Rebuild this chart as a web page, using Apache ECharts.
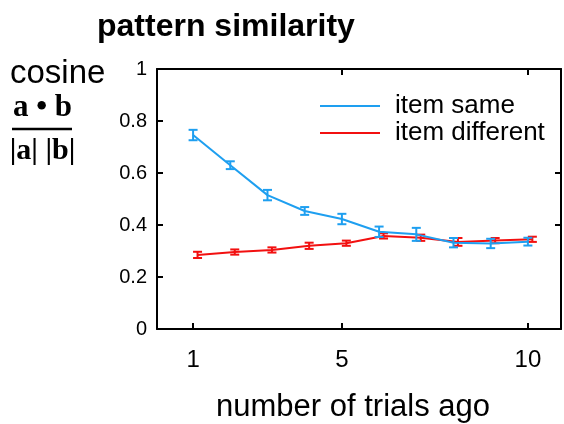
<!DOCTYPE html>
<html>
<head>
<meta charset="utf-8">
<script src="https://cdn.jsdelivr.net/npm/echarts@6/dist/echarts.min.js"></script>
<style>html,body{margin:0;padding:0;background:#fff}#c{width:564px;height:424px}</style>
</head>
<body>
<div id="c"></div>
<script>
// Data
const trials = [1, 2, 3, 4, 5, 6, 7, 8, 9, 10];
const sameMean = [0.746, 0.630, 0.515, 0.454, 0.423, 0.374, 0.364, 0.332, 0.329, 0.336];
const sameErr  = [0.020, 0.015, 0.020, 0.015, 0.020, 0.020, 0.025, 0.018, 0.018, 0.015];
const diffMean = [0.285, 0.296, 0.304, 0.320, 0.330, 0.358, 0.351, 0.335, 0.340, 0.345];
const diffErr  = [0.012, 0.010, 0.010, 0.012, 0.010, 0.010, 0.012, 0.015, 0.010, 0.010];
const xTickLabels = [1, 5, 10];
const yTicks = [0, 0.2, 0.4, 0.6, 0.8, 1];

// Style
const BLUE = '#1E9FF0';
const RED = '#F21010';
const DIFF_SHIFT = 0.12; // horizontal dodge of the second series
const FONT = 'Liberation Sans, Arial, sans-serif';
const SERIF = '"Liberation Serif", "Times New Roman", serif';

function lineData(means, shift) {
  return trials.map((t, i) => [t + shift, means[i]]);
}
function errData(means, errs, shift) {
  return trials.map((t, i) => [t + shift, means[i] - errs[i], means[i] + errs[i]]);
}
function errRender(color) {
  return function (params, api) {
    const x = api.value(0);
    const lo = api.coord([x, api.value(1)]);
    const hi = api.coord([x, api.value(2)]);
    const w = 4.5;
    const st = { stroke: color, lineWidth: 2 };
    return {
      type: 'group',
      children: [
        { type: 'line', shape: { x1: lo[0], y1: lo[1], x2: hi[0], y2: hi[1] }, style: st },
        { type: 'line', shape: { x1: lo[0] - w, y1: lo[1], x2: lo[0] + w, y2: lo[1] }, style: st },
        { type: 'line', shape: { x1: hi[0] - w, y1: hi[1], x2: hi[0] + w, y2: hi[1] }, style: st }
      ]
    };
  };
}

const chart = echarts.init(document.getElementById('c'), null, { renderer: 'canvas' });
const axisLine = { show: true, onZero: false, lineStyle: { color: '#000', width: 2 } };
const option = {
  animation: false,
  backgroundColor: '#fff',
  title: {
    text: 'pattern similarity',
    left: 92, top: 6,
    textStyle: { fontFamily: FONT, fontWeight: 'bold', fontSize: 32, color: '#000' }
  },
  legend: {
    data: ['item same', 'item different'],
    orient: 'vertical', left: 320, top: 93, padding: 0,
    itemWidth: 60, itemHeight: 2, icon: 'rect', itemGap: 1,
    textStyle: { fontFamily: FONT, fontSize: 26, lineHeight: 26, color: '#000', padding: [0, 0, 0, 10] }
  },
  grid: { left: 157, right: 3, top: 69, bottom: 95, containLabel: false, outerBoundsMode: 'none' },
  xAxis: [
    {
      type: 'value', position: 'bottom', min: 0.03, max: 10.89,
      axisLine: axisLine,
      axisTick: { show: true, inside: true, length: 6, customValues: xTickLabels, lineStyle: { color: '#000', width: 2 } },
      axisLabel: { customValues: xTickLabels, fontFamily: FONT, fontSize: 24, color: '#000', margin: 19 },
      splitLine: { show: false },
      name: 'number of trials ago', nameLocation: 'middle', nameGap: 63,
      nameTextStyle: { fontFamily: FONT, fontSize: 31, color: '#000', padding: [0, 12, 0, 0] }
    },
    {
      type: 'value', position: 'top', min: 0.03, max: 10.89,
      axisLine: axisLine,
      axisTick: { show: true, inside: true, length: 6, customValues: [5, 10], lineStyle: { color: '#000', width: 2 } },
      axisLabel: { show: false },
      splitLine: { show: false }
    }
  ],
  yAxis: [
    {
      type: 'value', position: 'left', min: 0, max: 1, interval: 0.2,
      axisLine: axisLine,
      axisTick: { show: true, inside: true, length: 6, customValues: yTicks.slice(1, 5), lineStyle: { color: '#000', width: 2 } },
      axisLabel: { fontFamily: FONT, fontSize: 20, color: '#000', margin: 10, padding: [5, 0, 0, 0] },
      splitLine: { show: false }
    },
    {
      type: 'value', position: 'right', min: 0, max: 1, interval: 0.2,
      axisLine: axisLine,
      axisTick: { show: true, inside: true, length: 6, customValues: [0.4, 0.6], lineStyle: { color: '#000', width: 2 } },
      axisLabel: { show: false },
      splitLine: { show: false }
    }
  ],
  series: [
    {
      name: 'item different', type: 'line', data: lineData(diffMean, DIFF_SHIFT),
      showSymbol: false, symbol: 'none', color: RED,
      lineStyle: { color: RED, width: 2 }, z: 2
    },
    {
      name: 'item different err', type: 'custom', data: errData(diffMean, diffErr, DIFF_SHIFT),
      renderItem: errRender(RED), encode: { x: 0, y: [1, 2] }, z: 2
    },
    {
      name: 'item same', type: 'line', data: lineData(sameMean, 0),
      showSymbol: false, symbol: 'none', color: BLUE,
      lineStyle: { color: BLUE, width: 2 }, z: 3
    },
    {
      name: 'item same err', type: 'custom', data: errData(sameMean, sameErr, 0),
      renderItem: errRender(BLUE), encode: { x: 0, y: [1, 2] }, z: 3
    }
  ],
  graphic: [
    { type: 'text', left: 10, top: 57, style: { text: 'cosine', font: '33px ' + FONT, fill: '#000' } },
    { type: 'text', x: 42.5, y: 108, style: { text: 'a \u2022 b', font: 'bold 31px ' + SERIF, fill: '#000', textAlign: 'center', textVerticalAlign: 'middle' } },
    { type: 'line', shape: { x1: 12, y1: 129, x2: 72, y2: 129 }, style: { stroke: '#000', lineWidth: 2.5 } },
    { type: 'text', x: 42.5, y: 151, style: { text: '|a| |b|', font: 'bold 30px ' + SERIF, fill: '#000', textAlign: 'center', textVerticalAlign: 'middle' } }
  ]
};
chart.setOption(option);
</script>
</body>
</html>
